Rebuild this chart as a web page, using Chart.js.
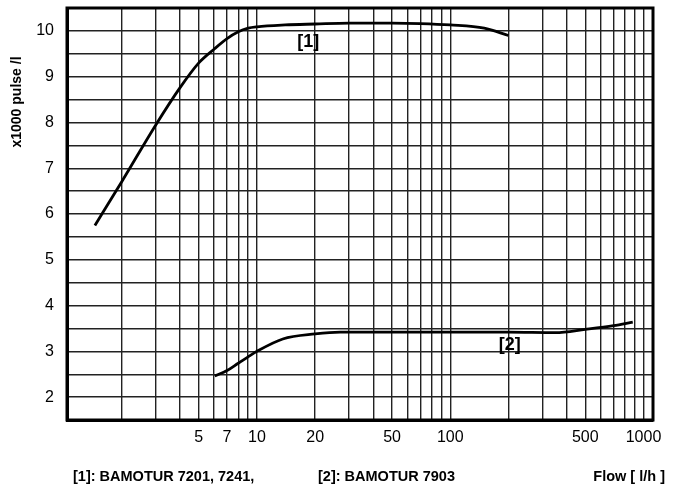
<!DOCTYPE html>
<html>
<head>
<meta charset="utf-8">
<script src="https://cdn.jsdelivr.net/npm/chart.js@4"></script>
<style>
  body { margin: 0; background: #fff; }
  #wrap { position: relative; width: 673px; height: 487px; }
</style>
</head>
<body>
<div id="wrap"><canvas id="chart" width="673" height="487"></canvas></div>
<script>
// curve [1]: BAMOTUR 7201, 7241
const flow1 = [1.45, 2, 3, 4, 5, 6, 7, 8, 9, 10, 14, 20, 30, 50, 70, 100, 150, 200];
const pulse1 = [5.75, 6.71, 7.95, 8.76, 9.3, 9.6, 9.83, 9.98, 10.06, 10.09, 10.13, 10.15, 10.17, 10.17, 10.16, 10.13, 10.06, 9.9];

// curve [2]: BAMOTUR 7903
const flow2 = [6.05, 7, 8, 9, 10, 13.6, 20, 27, 50, 100, 200, 350, 500, 700, 880];
const pulse2 = [2.46, 2.58, 2.74, 2.88, 3.0, 3.27, 3.38, 3.42, 3.42, 3.42, 3.42, 3.41, 3.48, 3.56, 3.64];

// axis ticks
const xGrid = [2, 3, 4, 5, 6, 7, 8, 9, 10, 20, 30, 40, 50, 60, 70, 80, 90, 100,
               200, 300, 400, 500, 600, 700, 800, 900, 1000];
const xTickLabels = [5, 7, 10, 20, 50, 100, 500, 1000];
const yTickLabels = [2, 3, 4, 5, 6, 7, 8, 9, 10];

const yTitle = 'x1000 pulse /l';

// curve labels
const curveTags = [
    { text: '[1]', x: 18.4, y: 9.76 },
    { text: '[2]', x: 203, y: 3.14 }
];

const footer = [
    { text: '[1]: BAMOTUR 7201, 7241,', x: 73, align: 'left' },
    { text: '[2]: BAMOTUR 7903', x: 318, align: 'left' },
    { text: 'Flow [ l/h ]', x: 665, align: 'right' }
];

const toPoints = (xs, ys) => xs.map((x, i) => ({ x: x, y: ys[i] }));

const extras = {
    id: 'extras',
    afterDraw(chart) {
        const { ctx, chartArea: a, scales } = chart;
        ctx.save();
        // frame
        ctx.strokeStyle = '#000';
        ctx.lineWidth = 3;
        ctx.strokeRect(a.left, a.top, a.right - a.left, a.bottom - a.top);

        ctx.fillStyle = '#000';
        ctx.textBaseline = 'middle';
        ctx.textAlign = 'center';
        ctx.font = 'bold 18px "Liberation Sans", Arial, sans-serif';
        curveTags.forEach(t => {
            ctx.fillText(t.text, scales.x.getPixelForValue(t.x), scales.y.getPixelForValue(t.y));
        });

        ctx.font = 'bold 14.5px "Liberation Sans", Arial, sans-serif';
        footer.forEach(f => {
            ctx.textAlign = f.align;
            ctx.fillText(f.text, f.x, 477);
        });

        // y title sits high on the axis, not centred
        ctx.font = 'bold 14px "Liberation Sans", Arial, sans-serif';
        ctx.textAlign = 'center';
        ctx.translate(17, 102);
        ctx.rotate(-Math.PI / 2);
        ctx.fillText(yTitle, 0, 0);
        ctx.restore();
    }
};

const lineStyle = {
    borderColor: '#000',
    borderWidth: 2.8,
    pointRadius: 0,
    fill: false,
    cubicInterpolationMode: 'monotone'
};

new Chart(document.getElementById('chart'), {
    type: 'line',
    data: {
        datasets: [
            Object.assign({ label: '[1]', data: toPoints(flow1, pulse1) }, lineStyle),
            Object.assign({ label: '[2]', data: toPoints(flow2, pulse2) }, lineStyle)
        ]
    },
    options: {
        responsive: false,
        animation: false,
        layout: { padding: { top: 8, right: 20, left: 0, bottom: 0 } },
        plugins: {
            legend: { display: false },
            tooltip: { enabled: false }
        },
        scales: {
            x: {
                type: 'logarithmic',
                min: 1.04,
                max: 1120,
                afterBuildTicks: (scale) => {
                    scale.ticks = xGrid.map(v => ({ value: v }));
                },
                afterFit: (scale) => { scale.height = 67; },
                grid: { color: '#222', lineWidth: 1.4, drawTicks: false },
                border: { color: '#000', width: 3 },
                ticks: {
                    color: '#000',
                    padding: 8,
                    autoSkip: false,
                    maxRotation: 0,
                    font: { family: '"Liberation Sans", Arial, sans-serif', size: 16 },
                    callback: (v) => xTickLabels.includes(v) ? String(v) : ''
                }
            },
            y: {
                min: 1.5,
                max: 10.5,
                afterFit: (scale) => {
                    scale.width = 67;
                    scale.paddingTop = 0;
                    scale.paddingBottom = 0;
                },
                grid: { color: '#222', lineWidth: 1.4, drawTicks: false },
                border: { color: '#000', width: 3 },
                ticks: {
                    stepSize: 0.5,
                    color: '#000',
                    padding: 13,
                    font: { family: '"Liberation Sans", Arial, sans-serif', size: 16 },
                    callback: (v) => yTickLabels.includes(v) ? String(v) : ''
                }
            }
        }
    },
    plugins: [extras]
});
</script>
</body>
</html>
